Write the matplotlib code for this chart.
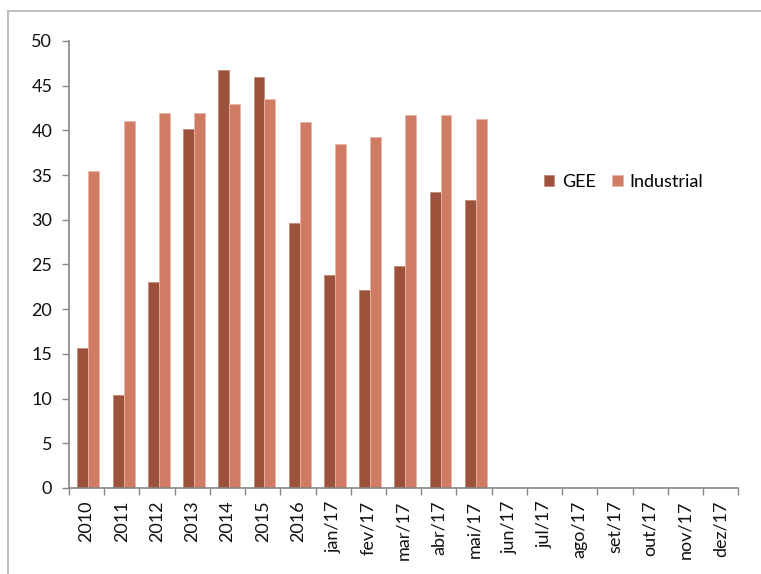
import matplotlib
matplotlib.use("Agg")
import matplotlib.pyplot as plt
from matplotlib.lines import Line2D
import numpy as np

categories = ["2010", "2011", "2012", "2013", "2014", "2015", "2016",
              "jan/17", "fev/17", "mar/17", "abr/17", "mai/17", "jun/17",
              "jul/17", "ago/17", "set/17", "out/17", "nov/17", "dez/17"]
gee = [15.7, 10.4, 23.0, 40.1, 46.8, 46.0, 29.6,
       23.8, 22.1, 24.8, 33.1, 32.2]
industrial = [35.4, 41.1, 41.9, 41.9, 42.9, 43.5, 40.9,
              38.5, 39.3, 41.7, 41.7, 41.3]

plt.rcParams["font.family"] = ["Lato", "DejaVu Sans"]
FS = 13

fig = plt.figure(figsize=(7.61, 5.74), dpi=100)
ax = fig.add_axes([0.0907, 0.150, 0.8793, 0.7786])

c_gee = "#9C523A"
c_ind = "#D07C64"
w = 0.31
x_gee = np.arange(len(gee))
x_ind = np.arange(len(industrial))
ax.bar(x_gee - w / 2 + 0.05, gee, width=w, color=c_gee,
       edgecolor="#C08A78", linewidth=0.6, label="GEE")
ax.bar(x_ind + w / 2 + 0.05, industrial, width=w, color=c_ind,
       edgecolor="#E8B8A8", linewidth=0.6, label="Industrial")

ax.set_xlim(-0.5, len(categories) - 0.5)
ax.set_ylim(0, 50)
ax.set_yticks(np.arange(0, 51, 5))
ax.set_xticks(np.arange(len(categories)))
ax.set_xticklabels(categories, rotation=90, fontsize=FS, color="#111111")
ax.tick_params(axis="y", labelsize=FS, labelcolor="#111111",
               color="#868686", length=5, width=1, direction="out", pad=7)
ax.tick_params(axis="x", which="major", length=0, pad=9)
ax.set_xticks(np.arange(len(categories) + 1) - 0.5, minor=True)
ax.tick_params(axis="x", which="minor", color="#868686", length=5,
               width=1, direction="out")

for side in ("top", "right"):
    ax.spines[side].set_visible(False)
for side in ("left", "bottom"):
    ax.spines[side].set_color("#868686")
    ax.spines[side].set_linewidth(1.2)

ax.legend(loc="center left", bbox_to_anchor=(0.685, 0.685), ncol=2,
          frameon=False, fontsize=FS, handlelength=0.6, handleheight=0.6,
          handletextpad=0.4, columnspacing=0.9)

# outer chart frame (top and left edges)
fig.add_artist(Line2D([8 / 761, 1.0], [1 - 11 / 574, 1 - 11 / 574],
                      transform=fig.transFigure, color="#BFBFBF", linewidth=1.5))
fig.add_artist(Line2D([8 / 761, 8 / 761], [0.0, 1 - 11 / 574],
                      transform=fig.transFigure, color="#BFBFBF", linewidth=1.5))

fig.savefig("out.png", dpi=100)
